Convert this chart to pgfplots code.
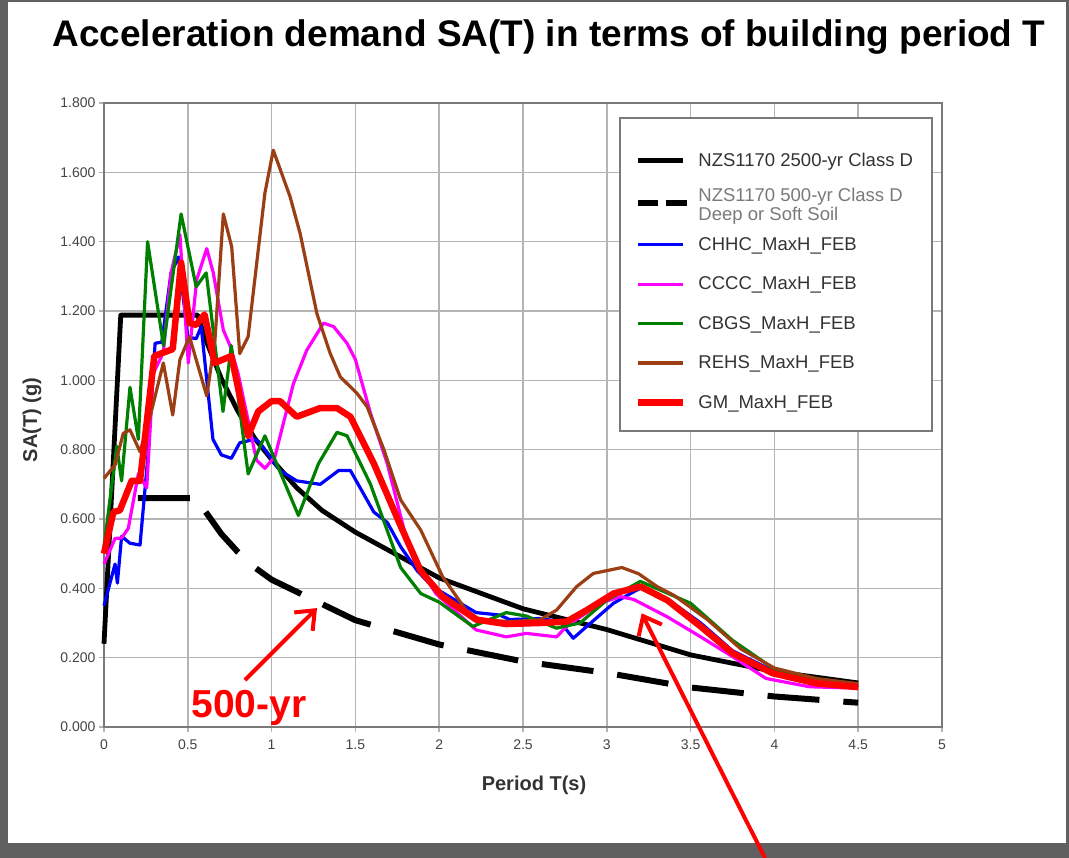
\documentclass[border=0pt]{standalone}
\usepackage{pgfplots}
\pgfplotsset{compat=1.18}
\usepackage{fontspec}
\setmainfont{Liberation Sans}
\usetikzlibrary{arrows.meta}
\definecolor{framegray}{HTML}{606060}
\definecolor{gridgray}{HTML}{B4B4B4}
\definecolor{axisgray}{HTML}{7A7A7A}
\definecolor{tickc}{HTML}{444444}
\definecolor{legtext}{HTML}{333333}
\definecolor{leggray}{HTML}{7A7A7A}
\definecolor{browncol}{RGB}{155,62,20}
\definecolor{greencol}{RGB}{0,128,0}
\definecolor{magentac}{RGB}{255,0,255}
\definecolor{bluec}{RGB}{0,0,255}
\definecolor{redc}{RGB}{255,0,0}
\newcommand{\legtxt}[1]{\hspace*{5pt}#1}
\begin{document}
\begin{tikzpicture}[x=1pt,y=1pt]
\useasboundingbox (0,0) rectangle (1069,858);
\fill[framegray] (0,0) rectangle (1069,858);
\fill[white] (8,15) rectangle (1066,856);
\node[font=\bfseries\fontsize{37}{40}\selectfont] at (549,821) {Acceleration demand SA(T) in terms of building period T};
\begin{axis}[
  at={(104pt,131pt)}, anchor=south west, scale only axis,
  width=838pt, height=624pt,
  xmin=0, xmax=5, ymin=0, ymax=1.8,
  xtick={0,0.5,1,1.5,2,2.5,3,3.5,4,4.5,5},
  xticklabels={0,0.5,1,1.5,2,2.5,3,3.5,4,4.5,5},
  ytick={0,0.2,0.4,0.6,0.8,1.0,1.2,1.4,1.6,1.8},
  yticklabels={0.000,0.200,0.400,0.600,0.800,1.000,1.200,1.400,1.600,1.800},
  grid=major,
  major grid style={line width=1.5pt, color=gridgray},
  axis line style={line width=2pt, draw=axisgray},
  tick pos=left, tick align=outside, major tick length=5pt,
  tick style={line width=1.5pt, color=gridgray},
  ticklabel style={font=\fontsize{14}{16}\selectfont, text=tickc},
  xticklabel style={yshift=-4pt},
  xlabel={Period T(s)},
  ylabel={SA(T) (g)},
  xlabel style={at={(rel axis cs:0.5,0)}, anchor=center, yshift=-58pt, xshift=11pt, font=\bfseries\fontsize{20}{22}\selectfont, text=legtext},
  ylabel style={at={(rel axis cs:0,0.492)}, anchor=center, yshift=72pt, font=\bfseries\fontsize{20}{22}\selectfont, text=legtext},
  clip=false,
  legend cell align=left,
  legend image code/.code={\draw[#1] (0pt,0pt) -- (45pt,0pt);},
  legend style={at={(rel axis cs:0.6158,0.9648)}, anchor=north west,
    draw=none, fill=none,
    font=\fontsize{18.5}{19}\selectfont, text=legtext,
    inner xsep=15pt, inner ysep=26pt, row sep=21pt,
    cells={anchor=west}},
]
% legend frame
\draw[axisgray, line width=1.5pt, fill=white] (rel axis cs:0.6158,0.9760) rectangle (rel axis cs:0.9881,0.4744);
% NZS1170 2500-yr
\addplot[black, line width=4.8pt, line join=round] coordinates {
(0,0.24) (0.1,1.188) (0.56,1.188) (0.6,1.125) (0.7,1.005) (0.8,0.910) (0.9,0.832) (1.0,0.772)
(1.15,0.690) (1.3,0.625) (1.5,0.562) (2.0,0.430) (2.5,0.341) (3.0,0.281) (3.5,0.208) (4.0,0.160) (4.5,0.127)};
\addlegendentry{\legtxt{NZS1170 2500-yr Class D}}
% NZS1170 500-yr
\addplot[black, line width=6pt, dash pattern=on 52pt off 24pt, dash phase=59pt,
  legend image code/.code={\draw[black, line width=6pt, dash pattern=on 21pt off 8pt] (0pt,0pt) -- (50pt,0pt);}] coordinates {
(0.1,0.66) (0.56,0.66) (0.6,0.625) (0.7,0.557) (0.8,0.504) (0.9,0.46) (1.0,0.425)
(1.5,0.308) (2.0,0.238) (2.5,0.189) (3.0,0.156) (3.5,0.114) (4.0,0.088) (4.5,0.070)};
\addlegendentry{\legtxt{\raisebox{0pt}[18pt][10pt]{\color{leggray}\begin{tabular}[c]{@{}l@{}}NZS1170 500-yr Class D\\Deep or Soft Soil\end{tabular}}}}
% CHHC
\addplot[bluec, line width=3.2pt, line join=round] coordinates {
(0,0.35) (0.066,0.47) (0.08,0.415) (0.105,0.55) (0.155,0.53) (0.215,0.525) (0.26,0.77)
(0.305,1.107) (0.345,1.11) (0.40,1.31) (0.445,1.356) (0.50,1.125) (0.55,1.12) (0.58,1.155)
(0.65,0.83) (0.70,0.785) (0.76,0.775) (0.81,0.82) (0.90,0.83) (0.93,0.82) (1.05,0.74)
(1.15,0.71) (1.29,0.70) (1.40,0.74) (1.47,0.74) (1.61,0.62) (1.69,0.59) (1.77,0.52)
(1.87,0.45) (1.96,0.405) (2.22,0.33) (2.36,0.323) (2.42,0.31) (2.60,0.313) (2.72,0.304)
(2.80,0.256) (2.88,0.29) (3.04,0.357) (3.16,0.39) (3.22,0.405) (3.36,0.37) (3.56,0.30)
(3.75,0.22) (4.0,0.16) (4.25,0.13) (4.5,0.115)};
\addlegendentry{\legtxt{CHHC\_MaxH\_FEB}}
% CCCC
\addplot[magentac, line width=3.2pt, line join=round] coordinates {
(0,0.47) (0.066,0.544) (0.105,0.545) (0.145,0.573) (0.205,0.73) (0.255,0.69) (0.294,1.02)
(0.354,1.08) (0.40,1.31) (0.453,1.42) (0.503,1.05) (0.553,1.29) (0.613,1.38) (0.652,1.31)
(0.712,1.145) (0.752,1.10) (0.80,1.02) (0.91,0.77) (0.96,0.746) (1.02,0.78) (1.13,0.99)
(1.21,1.087) (1.31,1.165) (1.37,1.155) (1.45,1.107) (1.50,1.06) (1.59,0.905) (1.69,0.76)
(1.79,0.57) (1.87,0.47) (1.98,0.385) (2.22,0.28) (2.40,0.26) (2.52,0.27) (2.70,0.26)
(2.76,0.29) (2.96,0.357) (3.08,0.376) (3.16,0.368) (3.36,0.318) (3.56,0.26) (3.75,0.203)
(3.95,0.14) (4.21,0.116) (4.5,0.112)};
\addlegendentry{\legtxt{CCCC\_MaxH\_FEB}}
% CBGS
\addplot[greencol, line width=3.2pt, line join=round] coordinates {
(0,0.52) (0.076,0.81) (0.105,0.71) (0.155,0.98) (0.205,0.83) (0.26,1.40) (0.355,1.10)
(0.46,1.48) (0.55,1.27) (0.61,1.31) (0.71,0.91) (0.76,1.10) (0.86,0.73) (0.96,0.84)
(1.16,0.61) (1.28,0.76) (1.39,0.85) (1.45,0.84) (1.59,0.70) (1.77,0.46) (1.89,0.385)
(2.0,0.36) (2.2,0.29) (2.4,0.33) (2.52,0.32) (2.70,0.285) (2.84,0.30) (3.0,0.366)
(3.2,0.42) (3.5,0.357) (3.75,0.25) (3.99,0.17) (4.25,0.13) (4.5,0.118)};
\addlegendentry{\legtxt{CBGS\_MaxH\_FEB}}
% REHS
\addplot[browncol, line width=3.2pt, line join=round] coordinates {
(0,0.717) (0.066,0.756) (0.115,0.847) (0.155,0.857) (0.215,0.794) (0.265,0.876) (0.354,1.05)
(0.41,0.90) (0.453,1.06) (0.51,1.126) (0.613,0.955) (0.662,1.116) (0.712,1.48) (0.762,1.385)
(0.81,1.077) (0.86,1.126) (0.96,1.54) (1.01,1.664) (1.11,1.53) (1.17,1.424) (1.27,1.193)
(1.35,1.077) (1.41,1.01) (1.51,0.962) (1.57,0.924) (1.67,0.80) (1.77,0.655) (1.89,0.568)
(2.02,0.434) (2.16,0.337) (2.24,0.31) (2.42,0.304) (2.60,0.309) (2.70,0.337) (2.82,0.405)
(2.92,0.443) (3.09,0.46) (3.19,0.442) (3.30,0.405) (3.4,0.38) (3.6,0.31) (3.8,0.225)
(4.0,0.17) (4.25,0.14) (4.5,0.125)};
\addlegendentry{\legtxt{REHS\_MaxH\_FEB}}
% GM
\addplot[redc, line width=6.5pt, line join=round] coordinates {
(0,0.50) (0.056,0.62) (0.095,0.625) (0.165,0.71) (0.215,0.71) (0.30,1.07) (0.41,1.09)
(0.46,1.34) (0.51,1.165) (0.55,1.16) (0.60,1.19) (0.66,1.05) (0.71,1.06) (0.76,1.07)
(0.86,0.84) (0.92,0.91) (1.0,0.94) (1.05,0.94) (1.15,0.895) (1.29,0.92) (1.39,0.92)
(1.47,0.895) (1.61,0.76) (1.77,0.58) (1.89,0.45) (2.02,0.376) (2.22,0.31) (2.40,0.297)
(2.60,0.30) (2.76,0.304) (2.88,0.337) (3.04,0.385) (3.2,0.405) (3.36,0.366) (3.56,0.29)
(3.75,0.213) (3.99,0.155) (4.25,0.126) (4.5,0.115)};
\addlegendentry{\legtxt{GM\_MaxH\_FEB}}
% annotations
\draw[redc, line width=4pt, -{Straight Barb[length=16pt, width=26pt, line width=4pt]}]
  (axis cs:0.841,0.1356) -- (axis cs:1.271,0.343);
\draw[redc, line width=4pt, -{Straight Barb[length=16pt, width=26pt, line width=4pt]}]
  (axis cs:3.944,-0.378) -- (axis cs:3.208,0.328);
\node[redc, font=\bfseries\fontsize{39}{41}\selectfont] at (axis cs:0.865,0.055) {500-yr};
\end{axis}
\end{tikzpicture}
\end{document}
